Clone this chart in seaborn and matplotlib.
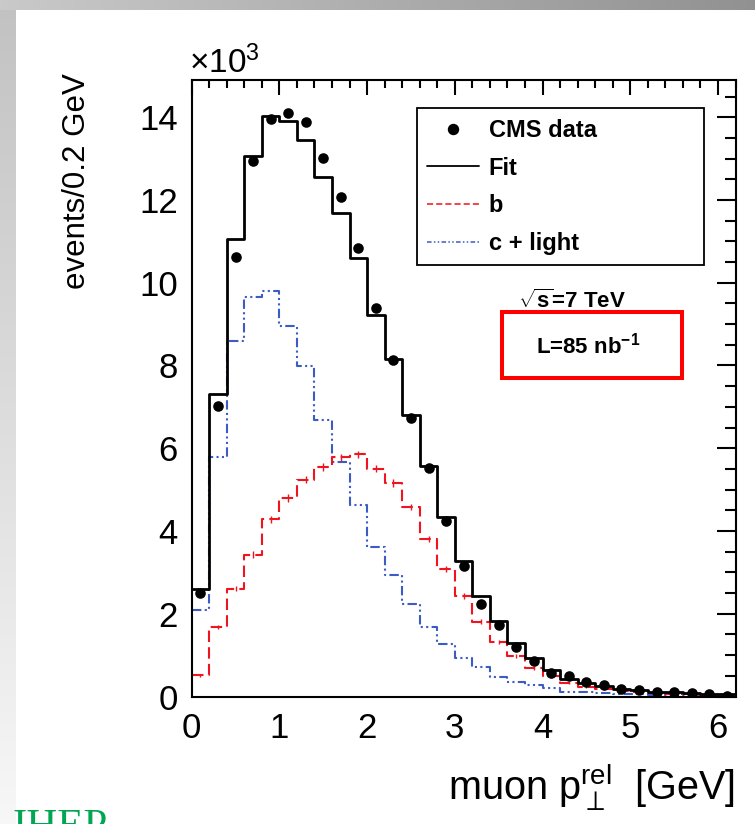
import numpy as np
import pandas as pd
import matplotlib
matplotlib.use("Agg")
import matplotlib.pyplot as plt
from matplotlib.lines import Line2D
from matplotlib.patches import Rectangle
from matplotlib.ticker import MultipleLocator
import seaborn as sns

# ---------------------------------------------------------------- data
# muon p_T^rel spectrum, 0.2 GeV bins from 0 to 6.2 GeV, counts in units of 10^3
bin_width = 0.2
bin_edges = [round(i * bin_width, 1) for i in range(32)]
bin_centers = [round(e + bin_width / 2, 2) for e in bin_edges[:-1]]

cms_data = [2.50, 7.02, 10.63, 12.94, 13.95, 14.11, 13.88, 13.02, 12.08, 10.83,
            9.38, 8.13, 6.73, 5.53, 4.24, 3.15, 2.23, 1.72, 1.19, 0.87,
            0.56, 0.49, 0.35, 0.27, 0.19, 0.15, 0.12, 0.10, 0.08, 0.06, 0.02]

fit_total = [2.61, 7.31, 11.05, 13.07, 14.04, 13.92, 13.45, 12.56, 11.68, 10.61,
             9.22, 8.15, 6.80, 5.56, 4.35, 3.27, 2.43, 1.82, 1.29, 0.93,
             0.65, 0.43, 0.33, 0.25, 0.19, 0.15, 0.12, 0.10, 0.08, 0.07, 0.06]

b_component = [0.51, 1.68, 2.61, 3.43, 4.28, 4.80, 5.24, 5.55, 5.78, 5.85,
               5.51, 5.16, 4.58, 3.81, 3.09, 2.42, 1.81, 1.31, 0.98, 0.69,
               0.49, 0.33, 0.24, 0.18, 0.13, 0.10, 0.08, 0.06, 0.05, 0.04, 0.03]

b_errors = [0.04, 0.06, 0.07, 0.08, 0.08, 0.09, 0.09, 0.09, 0.09, 0.09,
            0.09, 0.09, 0.08, 0.08, 0.07, 0.07, 0.06, 0.05, 0.05, 0.04,
            0.04, 0.03, 0.03, 0.03, 0.02, 0.02, 0.02, 0.02, 0.02, 0.01, 0.01]

c_light_component = [2.08, 5.78, 8.59, 9.66, 9.81, 8.95, 7.98, 6.68, 5.67, 4.62,
                     3.61, 2.93, 2.23, 1.68, 1.27, 0.92, 0.71, 0.48, 0.35, 0.27,
                     0.20, 0.12, 0.11, 0.08, 0.06, 0.05, 0.04, 0.03, 0.03, 0.02, 0.02]

x_ticks = [0, 1, 2, 3, 4, 5, 6]
y_ticks = [0, 2, 4, 6, 8, 10, 12, 14]
legend_labels = ["CMS data", "Fit", "b", "c + light"]

hist_table = pd.DataFrame({
    "pt": bin_centers,
    "data": cms_data,
    "fit": fit_total,
    "b": b_component,
    "b_err": b_errors,
    "c_light": c_light_component,
})

# ---------------------------------------------------------------- style
sns.set_style("white")
plt.rcParams["font.family"] = ["Liberation Sans", "DejaVu Sans"]
plt.rcParams["mathtext.fontset"] = "custom"
plt.rcParams["mathtext.rm"] = "Liberation Sans"
plt.rcParams["mathtext.it"] = "Liberation Sans"
plt.rcParams["mathtext.bf"] = "Liberation Sans:bold"
plt.rcParams["text.color"] = "black"

RED = "#f0141e"
BLUE = "#3a5cc4"
W, H = 755, 824

fig = plt.figure(figsize=(W / 100, H / 100), dpi=100)
fig.patch.set_facecolor("white")

# slide frame: grey gradient bands along the top and the left edge
bg = fig.add_axes([0, 0, 1, 1], zorder=-10)
img = np.ones((H, W, 3))
top_band = np.linspace(0.79, 0.57, W)
img[:10, :, :] = top_band[None, :, None]
left_band = np.linspace(0.76, 0.97, H)
img[10:, :16, :] = left_band[10:, None, None]
bg.imshow(img, aspect="auto", extent=(0, 1, 0, 1), interpolation="bilinear")
bg.axis("off")

ax = fig.add_axes([191.7 / W, 1 - 696.5 / H, (735.5 - 191.7) / W, (696.5 - 80) / H])
ax.set_facecolor("white")

# ---------------------------------------------------------------- histograms
sns.histplot(data=hist_table, x="pt", weights="c_light", bins=bin_edges, element="step",
             fill=False, color=BLUE, linewidth=1.5,
             linestyle=(0, (4.5, 1.6, 1.0, 1.6, 1.0, 1.6)), ax=ax)
sns.histplot(data=hist_table, x="pt", weights="b", bins=bin_edges, element="step",
             fill=False, color=RED, linewidth=1.5, linestyle=(0, (5.5, 2.5)), ax=ax)
ax.errorbar(hist_table["pt"], hist_table["b"], yerr=hist_table["b_err"], fmt="none",
            ecolor=RED, elinewidth=1.0, zorder=3)
sns.histplot(data=hist_table, x="pt", weights="fit", bins=bin_edges, element="step",
             fill=False, color="black", linewidth=2.0, ax=ax)
sns.scatterplot(data=hist_table, x="pt", y="data", color="black", s=58, linewidth=0,
                ax=ax, zorder=6)

# ---------------------------------------------------------------- axes
ax.set_xlim(0, 6.2)
ax.set_ylim(0, 14.9)
ax.set_xlabel("")
ax.set_ylabel("")
ax.set_xticks(x_ticks)
ax.set_xticklabels([str(t) for t in x_ticks])
ax.set_yticks(y_ticks)
ax.set_yticklabels([str(t) for t in y_ticks])
ax.xaxis.set_minor_locator(MultipleLocator(0.2))
ax.yaxis.set_minor_locator(MultipleLocator(0.5))
ax.tick_params(which="both", direction="in", top=True, right=True,
               width=1.5, color="black", labelcolor="black")
ax.tick_params(axis="x", which="major", length=11, pad=11, labelsize=25)
ax.tick_params(axis="x", which="minor", length=6)
ax.tick_params(axis="y", which="major", length=14, pad=10, labelsize=25)
ax.tick_params(axis="y", which="minor", length=8)
for sp in ax.spines.values():
    sp.set_visible(True)
    sp.set_color("black")
    sp.set_linewidth(1.5)

fig.text(77 / W, 1 - 73 / H, "events/0.2 GeV", rotation=90, ha="center", va="top",
         fontsize=22.5)
fig.text(735 / W, 1 - 800 / H, r"muon p$_{\perp}^{\rm rel}$  [GeV]", ha="right",
         va="baseline", fontsize=28.5)
fig.text(189 / W, 1 - 73 / H, r"×10$^{3}$", ha="left", va="baseline", fontsize=24)

# ---------------------------------------------------------------- legend
handles = [
    Line2D([], [], marker="o", ls="none", color="black", markersize=7.2),
    Line2D([], [], color="black", lw=1.3),
    Line2D([], [], color=RED, lw=1.1, linestyle=(0, (4, 2))),
    Line2D([], [], color=BLUE, lw=1.1, linestyle=(0, (3, 1.5, 1, 1.5, 1, 1.5))),
]
leg = ax.legend(handles, legend_labels, loc="upper left",
                bbox_to_anchor=(0.4138, 0.7053, 0.5288, 0.2488), mode="expand",
                prop={"weight": "bold", "size": 17}, frameon=True, fancybox=False,
                edgecolor="black", framealpha=1, borderpad=0.45, labelspacing=0.62,
                handlelength=2.2, handletextpad=0.4, borderaxespad=0, numpoints=1)
leg.get_frame().set_linewidth(1.3)

# ---------------------------------------------------------------- annotations
fig.text(572 / W, 1 - 308 / H, r"$\sqrt{\mathbf{s}}$=7 TeV", ha="center",
         va="baseline", fontsize=16, fontweight="bold")
fig.text(588 / W, 1 - 346 / H, r"L=85 nb$^{\mathbf{-1}}$", ha="center", va="center",
         fontsize=16, fontweight="bold")
fig.add_artist(Rectangle((502 / W, 1 - 378 / H), 180 / W, 66 / H, fill=False,
                         edgecolor="#ff0000", linewidth=2.9,
                         transform=fig.transFigure))

fig.text(13 / W, 1 - 808 / H, "IHEP", color="#00a651", family="Liberation Serif",
         fontsize=31, ha="left", va="top")

fig.savefig("out.png", dpi=100)
